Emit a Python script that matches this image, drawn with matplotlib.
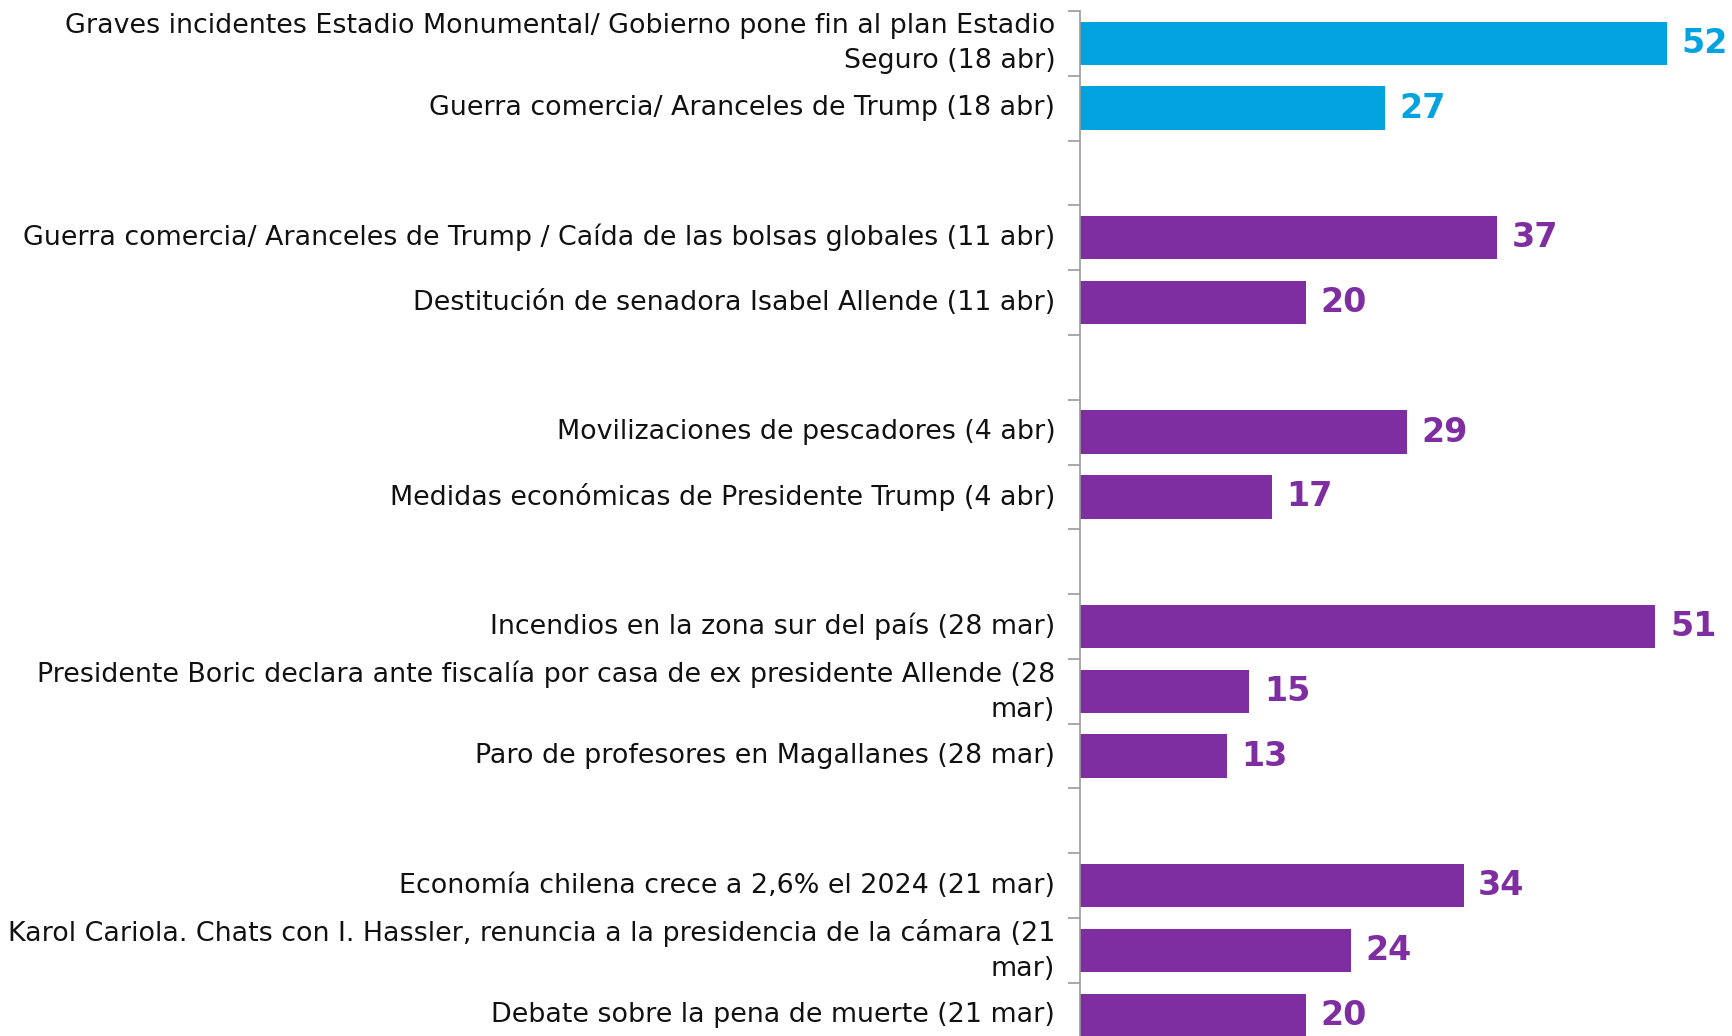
import numpy as np
import matplotlib
matplotlib.use('Agg')
import matplotlib.pyplot as plt

plt.rcParams['font.family'] = ['DejaVu Sans']

# rows top to bottom, None = blank spacer row between weeks
labels = [
    'Graves incidentes Estadio Monumental/ Gobierno pone fin al plan Estadio\nSeguro (18 abr)',
    'Guerra comercia/ Aranceles de Trump (18 abr)',
    None,
    'Guerra comercia/ Aranceles de Trump / Caída de las bolsas globales (11 abr)',
    'Destitución de senadora Isabel Allende (11 abr)',
    None,
    'Movilizaciones de pescadores (4 abr)',
    'Medidas económicas de Presidente Trump (4 abr)',
    None,
    'Incendios en la zona sur del país (28 mar)',
    'Presidente Boric declara ante fiscalía por casa de ex presidente Allende (28\nmar)',
    'Paro de profesores en Magallanes (28 mar)',
    None,
    'Economía chilena crece a 2,6% el 2024 (21 mar)',
    'Karol Cariola. Chats con I. Hassler, renuncia a la presidencia de la cámara (21\nmar)',
    'Debate sobre la pena de muerte (21 mar)',
]
values = [52, 27, None, 37, 20, None, 29, 17, None, 51, 15, 13, None, 34, 24, 20]
latest = [True, True, False, False, False, False, False, False, False,
          False, False, False, False, False, False, False]

BLUE = '#03A3E0'
PURPLE = '#7F2EA1'

fig = plt.figure(figsize=(17.32, 10.36), dpi=100)
ax = fig.add_axes([0.6236, -0.0112, 0.3764, 1.0006])

for i, (lab, v) in enumerate(zip(labels, values)):
    if v is None:
        continue
    c = BLUE if latest[i] else PURPLE
    ax.barh(i, v, height=0.67, color=c)
    ax.text(v + 1.3, i, str(v), color=c, fontsize=24, fontweight='bold',
            va='center', ha='left')
    ax.text(-2.2, i, lab, fontsize=19.4, color='#111111', ha='right',
            va='center', linespacing=1.45, multialignment='right')

ax.set_ylim(len(labels) - 0.5, -0.5)
ax.set_xlim(0, 57.8)
ax.set_yticks([])
ax.set_yticks(np.arange(-0.5, len(labels), 1.0), minor=True)
ax.tick_params(axis='y', which='minor', length=9, color='#999999', width=1.2)
ax.set_xticks([])
for s in ['top', 'right', 'bottom']:
    ax.spines[s].set_visible(False)
ax.spines['left'].set_color('#999999')
ax.spines['left'].set_linewidth(1.2)

fig.savefig('out.png', dpi=100)
